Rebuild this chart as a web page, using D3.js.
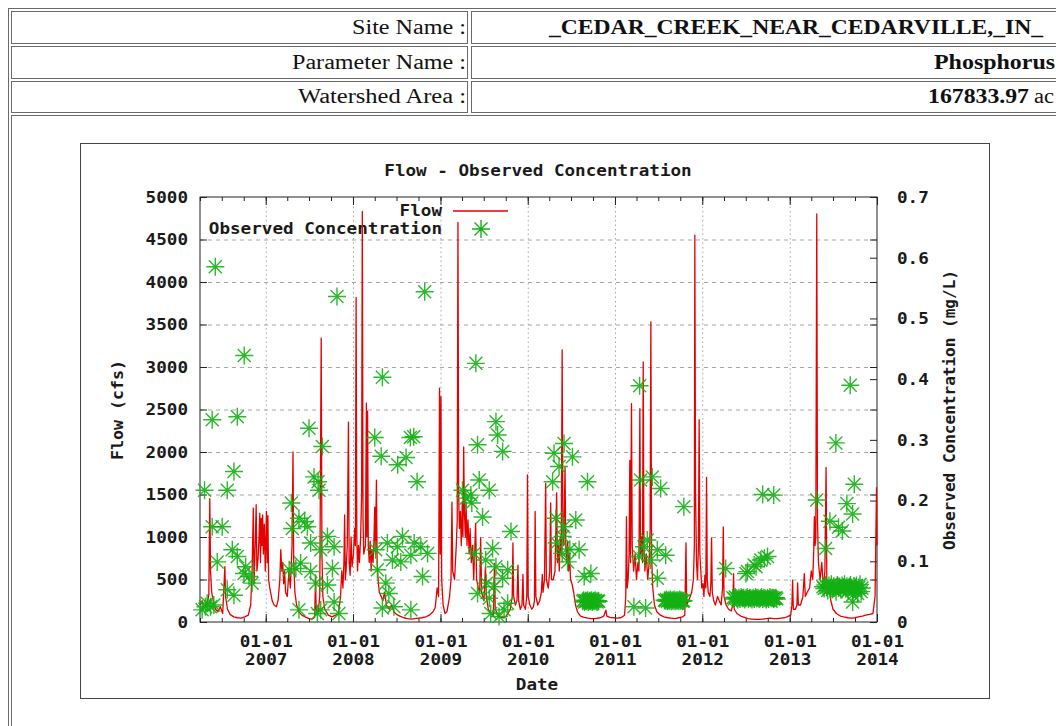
<!DOCTYPE html>
<html><head><meta charset="utf-8">
<script src="https://cdn.jsdelivr.net/npm/d3@7"></script>
<style>
html,body{margin:0;padding:0;background:#fff;overflow:hidden}
svg{display:block}
.mono{font-family:"DejaVu Sans Mono",monospace;font-weight:bold;font-size:15px;fill:#1a1a1a}
.serif{font-family:"Liberation Serif","Times New Roman",serif;font-size:20px;fill:#111}
</style></head><body>
<svg id="c" width="1056" height="726"></svg>
<script>
// ---------------- header table texts ----------------
const headerLabels = ["Site Name :", "Parameter Name :", "Watershed Area :"];
const headerValues = ["_CEDAR_CREEK_NEAR_CEDARVILLE,_IN_", "Phosphorus", "167833.97"];
const areaUnit = "ac";

// ---------------- chart texts ----------------
const chartTitle = "Flow - Observed Concentration";
const flowLabel = "Flow (cfs)";
const concLabel = "Observed Concentration (mg/L)";
const dateLabel = "Date";
const legendNames = ["Flow", "Observed Concentration"];

// ---------------- tick values ----------------
const flowTicks = [0, 500, 1000, 1500, 2000, 2500, 3000, 3500, 4000, 4500, 5000];
const concTicks = [0, 0.1, 0.2, 0.3, 0.4, 0.5, 0.6, 0.7];
const yearTicks = ["2007", "2008", "2009", "2010", "2011", "2012", "2013", "2014"];
const dateDomain = ["2006-04-01", "2014-01-01"];

// ---------------- flow series (cfs) ----------------
const flow2006 = [["2006-04-01",200],["2006-04-10",250],["2006-04-20",180],["2006-05-01",220],["2006-05-08",320],["2006-05-12",1450],["2006-05-15",600],["2006-05-20",350],["2006-05-28",220],["2006-06-05",150],["2006-06-15",120],["2006-06-25",180],["2006-07-05",100],["2006-07-14",650],["2006-07-17",300],["2006-07-25",150],["2006-08-05",90],["2006-08-20",60],["2006-09-05",50],["2006-09-20",45],["2006-10-05",60],["2006-10-20",80],["2006-10-30",200],["2006-11-05",600],["2006-11-10",1340],["2006-11-13",450],["2006-11-18",900],["2006-11-22",1380],["2006-11-25",600],["2006-11-30",750],["2006-12-04",1000],["2006-12-07",1280],["2006-12-10",700],["2006-12-13",1220],["2006-12-16",900],["2006-12-19",1260],["2006-12-22",800],["2006-12-26",1150],["2006-12-30",600]];
const flow2007 = [["2007-01-04",1300],["2007-01-07",700],["2007-01-10",1250],["2007-01-13",500],["2007-01-18",400],["2007-01-28",250],["2007-02-05",200],["2007-02-15",180],["2007-02-22",260],["2007-03-01",500],["2007-03-05",850],["2007-03-09",600],["2007-03-13",700],["2007-03-17",450],["2007-03-21",600],["2007-03-25",350],["2007-04-01",300],["2007-04-08",600],["2007-04-14",400],["2007-04-21",900],["2007-04-25",2000],["2007-04-28",700],["2007-05-03",350],["2007-05-10",200],["2007-05-20",120],["2007-06-01",80],["2007-06-15",60],["2007-07-01",40],["2007-07-15",35],["2007-07-25",60],["2007-07-28",530],["2007-07-31",150],["2007-08-08",100],["2007-08-15",300],["2007-08-21",3340],["2007-08-24",800],["2007-08-28",300],["2007-09-05",150],["2007-09-20",80],["2007-10-05",60],["2007-10-20",80],["2007-11-01",100],["2007-11-10",300],["2007-11-15",600],["2007-11-20",400],["2007-11-24",700],["2007-11-27",1260],["2007-11-30",500],["2007-12-03",600],["2007-12-08",900],["2007-12-13",2350],["2007-12-16",700],["2007-12-20",550],["2007-12-24",1000],["2007-12-28",650]];
const flow2008 = [["2008-01-03",800],["2008-01-08",1100],["2008-01-11",900],["2008-01-14",3820],["2008-01-17",1000],["2008-01-20",600],["2008-01-24",900],["2008-01-28",700],["2008-02-02",1000],["2008-02-06",1500],["2008-02-09",4830],["2008-02-12",1200],["2008-02-15",800],["2008-02-22",900],["2008-02-26",2575],["2008-02-28",1000],["2008-03-02",2480],["2008-03-05",900],["2008-03-09",700],["2008-03-13",950],["2008-03-17",600],["2008-03-20",850],["2008-03-25",700],["2008-03-28",900],["2008-04-01",1350],["2008-04-04",800],["2008-04-08",1670],["2008-04-11",700],["2008-04-15",500],["2008-04-20",350],["2008-04-28",300],["2008-05-05",250],["2008-05-12",350],["2008-05-20",200],["2008-06-01",150],["2008-06-10",200],["2008-06-20",120],["2008-07-01",90],["2008-07-15",70],["2008-08-01",50],["2008-08-15",40],["2008-09-01",35],["2008-09-15",40],["2008-10-01",45],["2008-10-15",50],["2008-11-01",60],["2008-11-15",80],["2008-12-01",120],["2008-12-10",170],["2008-12-18",400],["2008-12-24",300],["2008-12-28",2750],["2008-12-31",800]];
const flow2009 = [["2009-01-03",2650],["2009-01-06",500],["2009-01-12",200],["2009-01-20",100],["2009-01-28",120],["2009-02-08",300],["2009-02-14",500],["2009-02-18",1410],["2009-02-21",600],["2009-03-01",500],["2009-03-08",900],["2009-03-12",1200],["2009-03-15",4700],["2009-03-18",1500],["2009-03-21",1100],["2009-03-25",1300],["2009-03-29",900],["2009-04-02",1400],["2009-04-05",1000],["2009-04-08",2060],["2009-04-11",1300],["2009-04-15",1000],["2009-04-18",1400],["2009-04-22",900],["2009-04-26",1200],["2009-05-01",800],["2009-05-05",1100],["2009-05-10",700],["2009-05-15",900],["2009-05-20",500],["2009-05-28",1160],["2009-06-01",500],["2009-06-08",400],["2009-06-14",350],["2009-06-18",990],["2009-06-22",350],["2009-07-02",250],["2009-07-08",650],["2009-07-12",300],["2009-07-20",150],["2009-08-01",100],["2009-08-10",80],["2009-08-15",690],["2009-08-18",150],["2009-09-01",70],["2009-09-15",50],["2009-10-01",60],["2009-10-20",150],["2009-10-28",300],["2009-10-31",930],["2009-11-03",300],["2009-11-10",200],["2009-11-17",250],["2009-11-21",670],["2009-11-24",250],["2009-12-01",150],["2009-12-08",200],["2009-12-12",560],["2009-12-15",200],["2009-12-22",150],["2009-12-28",300],["2009-12-31",1730]];
const flow2010 = [["2010-01-03",300],["2010-01-10",200],["2010-01-18",150],["2010-01-25",180],["2010-01-29",250],["2010-02-01",1300],["2010-02-04",300],["2010-02-12",200],["2010-02-20",250],["2010-02-27",350],["2010-03-03",560],["2010-03-06",350],["2010-03-12",500],["2010-03-17",1630],["2010-03-20",500],["2010-03-28",400],["2010-04-03",600],["2010-04-07",1400],["2010-04-10",500],["2010-04-18",500],["2010-04-25",600],["2010-05-02",1520],["2010-05-05",700],["2010-05-09",900],["2010-05-13",600],["2010-05-17",1000],["2010-05-21",800],["2010-05-25",3200],["2010-05-28",1200],["2010-06-01",900],["2010-06-06",1820],["2010-06-09",900],["2010-06-13",700],["2010-06-17",950],["2010-06-21",600],["2010-06-25",800],["2010-06-29",500],["2010-07-05",450],["2010-07-12",350],["2010-07-20",200],["2010-07-28",120],["2010-08-10",70],["2010-08-25",55],["2010-09-10",45],["2010-09-25",40],["2010-10-10",40],["2010-11-01",50],["2010-11-15",70],["2010-11-24",140],["2010-11-28",70],["2010-12-10",55],["2010-12-25",50]];
const flow2011 = [["2011-01-10",45],["2011-01-25",50],["2011-02-10",80],["2011-02-15",300],["2011-02-18",1240],["2011-02-21",400],["2011-02-25",500],["2011-03-01",800],["2011-03-04",1900],["2011-03-07",700],["2011-03-11",2570],["2011-03-14",900],["2011-03-20",600],["2011-03-26",800],["2011-04-01",500],["2011-04-07",700],["2011-04-11",600],["2011-04-15",2510],["2011-04-18",800],["2011-04-22",1000],["2011-04-26",700],["2011-04-29",3060],["2011-05-02",900],["2011-05-06",600],["2011-05-12",800],["2011-05-18",500],["2011-05-24",700],["2011-05-28",1100],["2011-05-31",3530],["2011-06-03",800],["2011-06-08",400],["2011-06-15",200],["2011-06-25",120],["2011-07-10",80],["2011-07-25",60],["2011-08-10",50],["2011-08-25",45],["2011-09-10",40],["2011-09-25",50],["2011-10-10",60],["2011-10-20",80],["2011-10-25",930],["2011-10-28",200],["2011-11-05",250],["2011-11-18",350],["2011-11-25",500],["2011-11-29",900],["2011-12-01",4550],["2011-12-04",1500],["2011-12-08",700],["2011-12-12",500],["2011-12-16",900],["2011-12-19",2380],["2011-12-22",800],["2011-12-26",600],["2011-12-30",400]];
const flow2012 = [["2012-01-04",450],["2012-01-08",300],["2012-01-12",550],["2012-01-16",400],["2012-01-19",1700],["2012-01-22",500],["2012-01-26",350],["2012-02-02",300],["2012-02-06",450],["2012-02-09",990],["2012-02-12",350],["2012-02-18",250],["2012-02-25",200],["2012-03-05",300],["2012-03-12",250],["2012-03-20",200],["2012-03-26",400],["2012-03-29",1120],["2012-04-01",300],["2012-04-10",200],["2012-04-20",150],["2012-05-01",130],["2012-05-08",200],["2012-05-11",570],["2012-05-14",150],["2012-05-25",100],["2012-06-10",70],["2012-06-25",55],["2012-07-10",40],["2012-07-25",35],["2012-08-10",30],["2012-08-25",30],["2012-09-10",35],["2012-09-25",40],["2012-10-10",45],["2012-10-25",40],["2012-11-10",40],["2012-11-25",45],["2012-12-10",50],["2012-12-20",60]];
const flow2013 = [["2013-01-05",80],["2013-01-10",200],["2013-01-13",490],["2013-01-16",150],["2013-01-25",150],["2013-01-31",200],["2013-02-03",460],["2013-02-06",200],["2013-02-15",200],["2013-02-25",300],["2013-03-03",570],["2013-03-07",300],["2013-03-15",350],["2013-03-25",400],["2013-04-01",600],["2013-04-07",500],["2013-04-11",800],["2013-04-14",1240],["2013-04-17",900],["2013-04-20",1000],["2013-04-24",4800],["2013-04-27",1200],["2013-05-01",700],["2013-05-08",500],["2013-05-15",700],["2013-05-22",400],["2013-05-28",600],["2013-06-02",1820],["2013-06-05",500],["2013-06-10",350],["2013-06-15",400],["2013-06-22",250],["2013-07-01",150],["2013-07-15",100],["2013-08-01",70],["2013-08-15",60],["2013-09-01",50],["2013-09-15",45],["2013-10-01",50],["2013-10-15",60],["2013-11-01",70],["2013-11-15",80],["2013-12-01",90],["2013-12-15",100],["2013-12-24",300],["2013-12-30",1580],["2014-01-01",900]];

// ---------------- observed concentration (mg/L) ----------------
const conc2006 = [["2006-06-04",0.585],["2006-10-03",0.439],["2006-05-22",0.333],["2006-09-04",0.338],["2006-04-20",0.217],["2006-07-24",0.217],["2006-08-21",0.248],["2006-05-22",0.157],["2006-07-03",0.157],["2006-06-12",0.099],["2006-08-14",0.119],["2006-09-04",0.108],["2006-10-09",0.091],["2006-10-02",0.080],["2006-10-23",0.075],["2006-07-24",0.053],["2006-08-21",0.044],["2006-04-10",0.020],["2006-04-24",0.025],["2006-05-01",0.031],["2006-05-15",0.025],["2006-05-29",0.028],["2006-11-05",0.064]];
const conc2007 = [["2007-04-18",0.196],["2007-07-01",0.319],["2007-08-26",0.289],["2007-07-22",0.239],["2007-08-08",0.231],["2007-08-12",0.217],["2007-05-20",0.171],["2007-06-13",0.165],["2007-06-24",0.157],["2007-04-22",0.154],["2007-07-08",0.130],["2007-09-16",0.141],["2007-10-14",0.124],["2007-08-19",0.119],["2007-05-27",0.097],["2007-07-08",0.083],["2007-05-07",0.088],["2007-10-07",0.088],["2007-07-29",0.064],["2007-09-16",0.061],["2007-10-14",0.033],["2007-05-20",0.020],["2007-08-05",0.014],["2007-11-03",0.014],["2007-08-19",0.020],["2007-04-09",0.086],["2007-10-26",0.536]];
const conc2008 = [["2008-10-27",0.544],["2008-05-03",0.403],["2008-04-01",0.304],["2008-04-28",0.273],["2008-07-06",0.259],["2008-08-10",0.271],["2008-08-28",0.304],["2008-09-11",0.305],["2008-09-25",0.231],["2008-04-05",0.119],["2008-05-24",0.130],["2008-07-05",0.124],["2008-07-26",0.141],["2008-09-13",0.130],["2008-10-11",0.124],["2008-11-08",0.113],["2008-06-14",0.102],["2008-07-19",0.099],["2008-08-30",0.110],["2008-10-18",0.075],["2008-05-17",0.064],["2008-04-12",0.086],["2008-05-03",0.023],["2008-08-30",0.020],["2008-05-30",0.047],["2008-06-20",0.025]];
const conc2009 = [["2009-05-29",0.426],["2009-04-03",0.217],["2009-04-17",0.204],["2009-05-08",0.209],["2009-05-12",0.196],["2009-06-05",0.292],["2009-06-12",0.234],["2009-07-24",0.217],["2009-08-21",0.330],["2009-08-28",0.308],["2009-09-18",0.281],["2009-06-26",0.173],["2009-05-22",0.113],["2009-08-07",0.121],["2009-10-23",0.149],["2009-07-09",0.102],["2009-07-12",0.064],["2009-08-13",0.058],["2009-09-18",0.072],["2009-10-09",0.086],["2009-08-21",0.091],["2009-10-09",0.031],["2009-07-30",0.014],["2009-09-03",0.009],["2009-09-24",0.020],["2009-06-05",0.047],["2009-07-24",0.039]];
const conc2010 = [["2010-04-21",0.278],["2010-06-02",0.294],["2010-07-07",0.272],["2010-05-12",0.256],["2010-04-15",0.231],["2010-09-08",0.231],["2010-04-29",0.171],["2010-07-21",0.168],["2010-06-01",0.157],["2010-05-27",0.141],["2010-08-04",0.119],["2010-05-25",0.113],["2010-06-17",0.099],["2010-08-25",0.075],["2010-09-22",0.080],["2010-05-02",0.130],["2010-06-26",0.120],
  ["2010-08-19",0.034],["2010-08-23",0.036],["2010-08-27",0.033],["2010-08-31",0.035],["2010-09-04",0.034],["2010-09-08",0.036],["2010-09-12",0.033],["2010-09-16",0.035],["2010-09-20",0.034],["2010-09-24",0.036],["2010-09-28",0.033],["2010-10-02",0.035],["2010-10-06",0.034],["2010-10-10",0.036],["2010-10-14",0.034],["2010-10-18",0.033],["2010-10-22",0.035],["2010-10-25",0.034]];
const conc2011 = [["2011-04-14",0.389],["2011-04-18",0.234],["2011-06-06",0.239],["2011-07-11",0.220],["2011-10-16",0.190],["2011-05-02",0.124],["2011-05-16",0.135],["2011-06-27",0.119],["2011-08-01",0.110],["2011-04-12",0.108],["2011-05-30",0.102],["2011-06-27",0.072],["2011-03-21",0.025],["2011-05-09",0.023],
  ["2011-07-27",0.036],["2011-07-31",0.035],["2011-08-04",0.037],["2011-08-08",0.034],["2011-08-12",0.036],["2011-08-16",0.035],["2011-08-20",0.037],["2011-08-24",0.034],["2011-08-28",0.036],["2011-09-01",0.035],["2011-09-05",0.037],["2011-09-09",0.034],["2011-09-13",0.036],["2011-09-17",0.035],["2011-09-21",0.036],["2011-09-25",0.034],["2011-09-29",0.037],["2011-10-03",0.035],["2011-10-07",0.036],["2011-10-11",0.034],["2011-10-15",0.035]];
const conc2012 = [["2012-04-08",0.088],["2012-07-08",0.083],["2012-08-05",0.094],["2012-09-02",0.102],["2012-09-30",0.108],["2012-09-10",0.210],["2012-10-26",0.209],["2012-10-26",0.039],["2012-07-02",0.080],["2012-08-13",0.091],["2012-09-17",0.105],
  ["2012-05-08",0.040],["2012-05-13",0.038],["2012-05-18",0.041],["2012-05-23",0.039],["2012-05-28",0.037],["2012-06-02",0.040],["2012-06-07",0.038],["2012-06-12",0.041],["2012-06-17",0.039],["2012-06-22",0.040],["2012-06-27",0.037],["2012-07-02",0.039],["2012-07-07",0.041],["2012-07-12",0.038],["2012-07-17",0.040],["2012-07-22",0.039],["2012-07-27",0.037],["2012-08-01",0.040],["2012-08-06",0.038],["2012-08-11",0.041],["2012-08-16",0.039],["2012-08-21",0.040],["2012-08-26",0.038],["2012-08-31",0.039],["2012-09-05",0.041],["2012-09-10",0.038],["2012-09-15",0.040],["2012-09-20",0.039],["2012-09-25",0.037],["2012-09-30",0.040],["2012-10-05",0.038],["2012-10-10",0.041],["2012-10-15",0.039],["2012-10-20",0.040],["2012-10-25",0.038],["2012-10-30",0.039],["2012-11-04",0.040],["2012-11-08",0.038]];
const conc2013 = [["2013-09-11",0.390],["2013-07-13",0.295],["2013-04-24",0.201],["2013-09-28",0.227],["2013-08-28",0.195],["2013-09-21",0.178],["2013-06-18",0.166],["2013-07-24",0.156],["2013-08-09",0.150],["2013-05-31",0.121],["2013-09-21",0.033],
  ["2013-05-20",0.058],["2013-05-25",0.055],["2013-05-30",0.061],["2013-06-04",0.057],["2013-06-09",0.052],["2013-06-14",0.060],["2013-06-19",0.056],["2013-06-24",0.062],["2013-06-29",0.054],["2013-07-04",0.059],["2013-07-09",0.057],["2013-07-14",0.050],["2013-07-19",0.061],["2013-07-24",0.056],["2013-07-29",0.058],["2013-08-03",0.053],["2013-08-08",0.060],["2013-08-13",0.057],["2013-08-18",0.062],["2013-08-23",0.055],["2013-08-28",0.059],["2013-09-02",0.052],["2013-09-07",0.058],["2013-09-12",0.061],["2013-09-17",0.056],["2013-09-22",0.045],["2013-09-27",0.059],["2013-10-02",0.054],["2013-10-07",0.060],["2013-10-12",0.047],["2013-10-17",0.057],["2013-10-22",0.062],["2013-10-27",0.050],["2013-10-30",0.056]];

// ---------------- build ----------------
const parse = d3.timeParse("%Y-%m-%d");
const flowData = [flow2006,flow2007,flow2008,flow2009,flow2010,flow2011,flow2012,flow2013].flat().map(([d,v])=>({date:parse(d),value:v})).sort((a,b)=>a.date-b.date);
const concData = [conc2006,conc2007,conc2008,conc2009,conc2010,conc2011,conc2012,conc2013].flat().map(([d,v])=>({date:parse(d),value:v}));

const svg = d3.select("#c");
svg.append("rect").attr("width",1056).attr("height",726).attr("fill","#fff");

// header table frame
const hb = svg.append("g").attr("fill","none").attr("stroke","#6a6a6a").attr("stroke-width",1);
hb.append("rect").attr("x",8.5).attr("y",8.5).attr("width",1100).attr("height",800);
const rows = [[11.5,43.5],[46.5,78.5],[81.5,112.5]];
rows.forEach(([y0,y1])=>{
  hb.append("rect").attr("x",11.5).attr("y",y0).attr("width",456).attr("height",y1-y0);
  hb.append("rect").attr("x",471.5).attr("y",y0).attr("width",700).attr("height",y1-y0);
});
hb.append("rect").attr("x",11.5).attr("y",115.5).attr("width",1100).attr("height",700);

const labelW = [114,174,168];
const baselines = [34,69,103];
headerLabels.forEach((t,i)=>{
  svg.append("text").attr("class","serif").attr("x",466).attr("y",baselines[i]).attr("text-anchor","end")
    .attr("textLength",labelW[i]).attr("lengthAdjust","spacingAndGlyphs").text(t);
});
svg.append("text").attr("class","serif").attr("x",549).attr("y",baselines[0]).attr("font-weight","bold")
  .attr("textLength",494).attr("lengthAdjust","spacingAndGlyphs").text(headerValues[0]);
svg.append("text").attr("class","serif").attr("x",934).attr("y",baselines[1]).attr("font-weight","bold")
  .attr("textLength",121).attr("lengthAdjust","spacingAndGlyphs").text(headerValues[1]);
svg.append("text").attr("class","serif").attr("x",928).attr("y",baselines[2]).attr("font-weight","bold")
  .attr("textLength",101).attr("lengthAdjust","spacingAndGlyphs").text(headerValues[2]);
svg.append("text").attr("class","serif").attr("x",1034).attr("y",baselines[2])
  .attr("textLength",20).attr("lengthAdjust","spacingAndGlyphs").text(areaUnit);

// chart image frame
svg.append("rect").attr("x",80.5).attr("y",143.5).attr("width",909).attr("height",555)
  .attr("fill","#fff").attr("stroke","#444");

// scales
const L=200,R=877,T=197,B=622;
const x = d3.scaleTime().domain(dateDomain.map(parse)).range([L,R]);
const yF = d3.scaleLinear().domain([0,5000]).range([B,T]);
const yC = d3.scaleLinear().domain([0,0.7]).range([B,T]);
const yearDates = yearTicks.map(y=>parse(y+"-01-01"));

const fitText = (sel, pc) => sel.each(function(){
  const n=this.textContent.length; d3.select(this).attr("textLength",pc*n).attr("lengthAdjust","spacingAndGlyphs");
});

// grid
const gGridH = svg.append("g").attr("transform",`translate(${L},0)`)
  .call(d3.axisLeft(yF).tickValues(flowTicks.slice(1,-1)).tickSize(-(R-L)).tickFormat(""));
gGridH.select(".domain").remove();
gGridH.selectAll("line").attr("stroke","#a6a6a6").attr("stroke-dasharray","4,4");
const gGridV = svg.append("g").attr("transform",`translate(0,${B})`)
  .call(d3.axisBottom(x).tickValues(yearDates.slice(0,-1)).tickSize(-(B-T)).tickFormat(""));
gGridV.select(".domain").remove();
gGridV.selectAll("line").attr("stroke","#a6a6a6").attr("stroke-dasharray","1.5,3");

// axes
function styleAxis(g){ g.select(".domain").remove(); g.selectAll("line").attr("stroke","#222"); g.selectAll("text").attr("class","mono").attr("fill",null).attr("font-size",null).attr("font-family",null); }
const gL = svg.append("g").attr("transform",`translate(${L},0)`)
  .call(d3.axisLeft(yF).tickValues(flowTicks).tickSize(-7).tickPadding(12).tickFormat(d3.format("d")));
styleAxis(gL); gL.selectAll("text").attr("dy","0.36em"); fitText(gL.selectAll("text"),10.6);
const gRm = svg.append("g").attr("transform",`translate(${R},0)`)
  .call(d3.axisRight(yF).tickValues(flowTicks).tickSize(-7).tickFormat(""));
styleAxis(gRm);
const gR = svg.append("g").attr("transform",`translate(${R},0)`)
  .call(d3.axisRight(yC).tickValues(concTicks).tickSize(-7).tickPadding(20).tickFormat(d=>d===0?"0":d3.format(".1f")(d)));
styleAxis(gR); gR.selectAll("text").attr("dy","0.36em"); fitText(gR.selectAll("text"),10.6);

const gBmin = svg.append("g").attr("transform",`translate(0,${B})`)
  .call(d3.axisBottom(x).ticks(d3.timeMonth.every(3)).tickSize(-4).tickFormat(""));
styleAxis(gBmin);
const gTmin = svg.append("g").attr("transform",`translate(0,${T})`)
  .call(d3.axisTop(x).ticks(d3.timeMonth.every(3)).tickSize(-4).tickFormat(""));
styleAxis(gTmin);
const gT = svg.append("g").attr("transform",`translate(0,${T})`)
  .call(d3.axisTop(x).tickValues(yearDates).tickSize(-8).tickFormat(""));
styleAxis(gT);
const gB = svg.append("g").attr("transform",`translate(0,${B})`)
  .call(d3.axisBottom(x).tickValues(yearDates).tickSize(-8).tickFormat(""));
styleAxis(gB);
gB.selectAll(".tick").each(function(d){
  const t = d3.select(this);
  t.append("text").attr("class","mono").attr("y",25).attr("text-anchor","middle").text(d3.timeFormat("%m-%d")(d));
  t.append("text").attr("class","mono").attr("y",43).attr("text-anchor","middle").text(d3.timeFormat("%Y")(d));
});
fitText(gB.selectAll("text"),10.6);

// border
svg.append("rect").attr("x",L).attr("y",T).attr("width",R-L).attr("height",B-T)
  .attr("fill","none").attr("stroke","#222");

// titles
const tt = svg.append("text").attr("class","mono").attr("x",538).attr("y",176).attr("text-anchor","middle").text(chartTitle);
fitText(tt,10.6);
const xl = svg.append("text").attr("class","mono").attr("x",537).attr("y",690).attr("text-anchor","middle").text(dateLabel);
fitText(xl,10.6);
svg.append("text").attr("class","mono").attr("transform",`translate(123,410) rotate(-90)`).attr("text-anchor","middle")
  .attr("textLength",100).attr("lengthAdjust","spacingAndGlyphs").text(flowLabel);
svg.append("text").attr("class","mono").attr("transform",`translate(955,410) rotate(-90)`).attr("text-anchor","middle")
  .attr("textLength",280).attr("lengthAdjust","spacingAndGlyphs").text(concLabel);

// legend
const lg = svg.append("g");
fitText(lg.append("text").attr("class","mono").attr("x",442).attr("y",216).attr("text-anchor","end").text(legendNames[0]),10.6);
fitText(lg.append("text").attr("class","mono").attr("x",442).attr("y",234).attr("text-anchor","end").text(legendNames[1]),10.6);
lg.append("line").attr("x1",453).attr("x2",508).attr("y1",211).attr("y2",211).attr("stroke","#e60000").attr("stroke-width",1.5);

const starPath = "M-9,0H9M0,-9V9M-6.5,-6.5L6.5,6.5M-6.5,6.5L6.5,-6.5";
const starColor = "#14b014";
lg.append("path").attr("d",starPath).attr("transform","translate(481,229)").attr("stroke",starColor).attr("stroke-width",1.4).attr("fill","none");

// flow line
const line = d3.line().x(d=>x(d.date)).y(d=>yF(d.value));
svg.append("path").datum(flowData).attr("d",line).attr("fill","none")
  .attr("stroke","#e60000").attr("stroke-width",1.3).attr("stroke-linejoin","round");

// concentration stars
svg.append("g").selectAll("path").data(concData).join("path")
  .attr("d",starPath).attr("transform",d=>`translate(${x(d.date)},${yC(d.value)})`)
  .attr("fill","none").attr("stroke",starColor).attr("stroke-width",1.4).attr("stroke-opacity",0.9);
</script>
</body></html>
